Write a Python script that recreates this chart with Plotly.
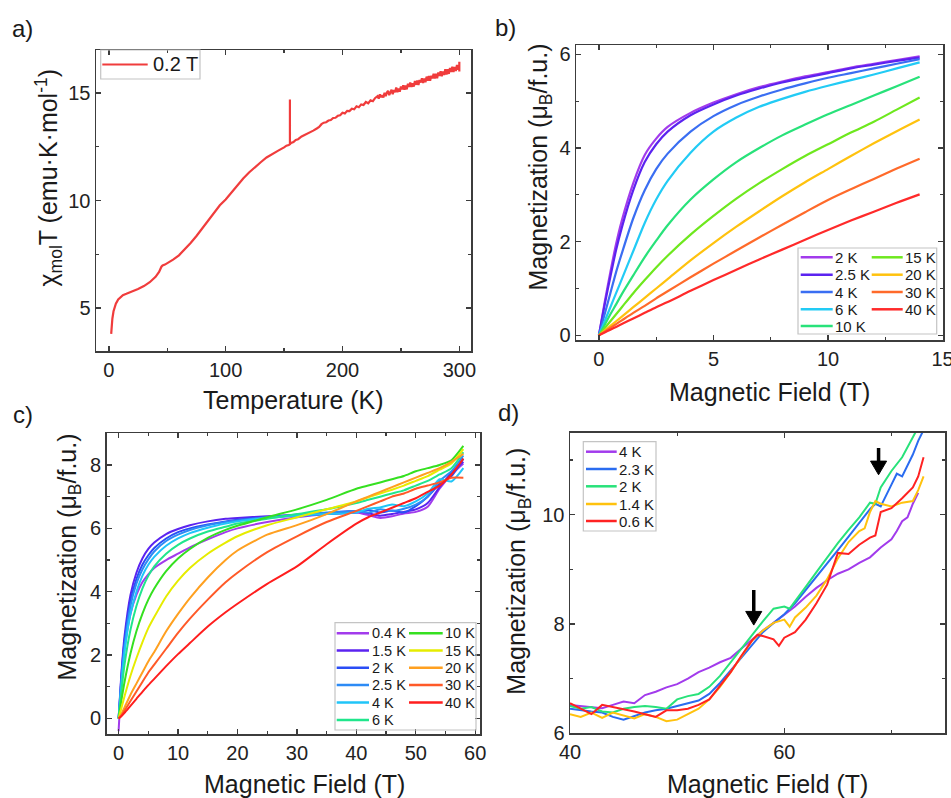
import plotly.graph_objects as go

W, H = 951, 798
FONT = "Liberation Sans, Arial, sans-serif"
AXC = "#3c3c3c"

# ---------------- Panel a: chi*T vs temperature (0.2 T) ----------------
temp_a = [2, 2.5, 3, 4, 5, 6, 8, 10, 12, 15, 20, 25, 30, 35, 40, 43, 45, 46, 48, 50,
          55, 60, 65, 70, 75, 80, 85, 90, 95, 100, 105, 110, 115, 120, 125, 130, 135,
          140, 145, 150, 152, 154, 155, 155, 155, 156, 158, 160, 162, 165, 168, 170,
          172, 175, 178,
          180, 182, 184, 186, 188, 190, 192, 194, 196, 198, 200, 202, 204, 206, 208,
          210, 212, 214, 216, 218, 220, 222, 224, 226, 228,
          230, 231, 232, 233, 234, 235, 236, 237, 238, 239, 240, 241, 242, 243, 244,
          245, 246, 247, 248, 249, 250, 251, 252, 253, 254, 255, 256, 257, 258, 259,
          260, 261, 262, 263, 264, 265, 266, 267, 268, 269, 270, 271, 272, 273, 274,
          275, 276, 277, 278, 279, 280, 281, 282, 283, 284, 285, 286, 287, 288, 289,
          290, 291, 292, 293, 294, 295, 296, 297, 298, 299, 300, 300, 300]
chiT_a = [3.8, 4.2, 4.5, 4.85, 5.05, 5.2, 5.4, 5.52, 5.6, 5.66, 5.76, 5.88, 6.02, 6.2,
          6.45, 6.68, 6.92, 6.98, 7.02, 7.08, 7.25, 7.45, 7.72, 8.02, 8.35, 8.72, 9.08,
          9.45, 9.78, 10.05, 10.38, 10.72, 11.02, 11.3, 11.55, 11.78, 12.0, 12.18,
          12.32, 12.47, 12.55, 12.58, 12.62, 14.7, 12.62, 12.68, 12.72, 12.82, 12.85,
          12.98, 13.05, 13.12, 13.18, 13.25, 13.35,
          13.42, 13.55, 13.62, 13.64, 13.72, 13.74, 13.84, 13.85, 13.94, 13.96, 14.08,
          14.05, 14.17, 14.16, 14.27, 14.24, 14.38, 14.34, 14.47, 14.44, 14.58, 14.52,
          14.66, 14.62, 14.77,
          14.85, 14.74, 14.94, 14.80, 14.90, 14.79, 15.01, 14.85, 15.02, 15.10, 14.90,
          15.00, 15.15, 14.94, 15.14, 15.03, 15.25, 15.04, 15.20, 15.06, 15.30, 15.17,
          15.36, 15.15, 15.35, 15.17, 15.43, 15.28, 15.49, 15.28, 15.45, 15.30, 15.56,
          15.38, 15.58, 15.37, 15.61, 15.49, 15.69, 15.47, 15.67, 15.50, 15.76, 15.57,
          15.79, 15.57, 15.80, 15.68, 15.90, 15.67, 15.89, 15.69, 15.96, 15.79, 16.01,
          15.78, 16.00, 15.84, 16.10, 15.86, 16.10, 15.89, 16.16, 15.98, 16.22, 15.98,
          16.21, 16.02, 16.30, 16.08, 16.32, 16.0, 16.45]

# ---------------- Panel b: M(H) up to 14 T ----------------
field_b = [0, 0.25, 0.5, 0.75, 1, 1.5, 2, 2.5, 3, 4, 5, 6, 7, 8, 9, 10, 11, 12, 13, 14]
labels_b = ["2 K", "2.5 K", "4 K", "6 K", "10 K", "15 K", "20 K", "30 K", "40 K"]
colors_b = ["#A23BEC", "#5B23F0", "#3A6EF2", "#22CBF5", "#28E27A",
            "#6EE81E", "#FFC20E", "#FF6A2A", "#FF2A2A"]
m_b_2K = [0, 0.7, 1.35, 1.95, 2.45, 3.25, 3.85, 4.2, 4.45, 4.75, 4.97, 5.15, 5.3, 5.42, 5.53, 5.62, 5.72, 5.8, 5.88, 5.96]
m_b_2p5K = [0, 0.65, 1.25, 1.82, 2.3, 3.1, 3.7, 4.08, 4.35, 4.7, 4.93, 5.12, 5.27, 5.4, 5.5, 5.6, 5.7, 5.78, 5.86, 5.93]
m_b_4K = [0, 0.45, 0.9, 1.35, 1.75, 2.5, 3.1, 3.55, 3.88, 4.35, 4.68, 4.92, 5.1, 5.25, 5.38, 5.5, 5.6, 5.7, 5.8, 5.9]
m_b_6K = [0, 0.3, 0.6, 0.9, 1.2, 1.8, 2.4, 2.9, 3.3, 3.9, 4.35, 4.65, 4.88, 5.05, 5.2, 5.33, 5.45, 5.57, 5.7, 5.83]
m_b_10K = [0, 0.22, 0.45, 0.66, 0.88, 1.28, 1.67, 2.02, 2.35, 2.9, 3.33, 3.7, 4.0, 4.27, 4.5, 4.72, 4.92, 5.12, 5.32, 5.52]
m_b_15K = [0, 0.15, 0.3, 0.45, 0.6, 0.9, 1.18, 1.45, 1.7, 2.15, 2.55, 2.92, 3.25, 3.55, 3.83, 4.08, 4.33, 4.56, 4.82, 5.08]
m_b_20K = [0, 0.1, 0.2, 0.3, 0.4, 0.6, 0.8, 1.0, 1.2, 1.6, 1.97, 2.32, 2.65, 2.97, 3.27, 3.55, 3.83, 4.1, 4.36, 4.61]
m_b_30K = [0, 0.08, 0.16, 0.24, 0.32, 0.48, 0.63, 0.79, 0.94, 1.24, 1.53, 1.81, 2.09, 2.36, 2.63, 2.89, 3.12, 3.34, 3.56, 3.77]
m_b_40K = [0, 0.06, 0.12, 0.18, 0.24, 0.36, 0.48, 0.6, 0.71, 0.95, 1.18, 1.4, 1.62, 1.83, 2.04, 2.25, 2.45, 2.64, 2.83, 3.01]
series_b = [m_b_2K, m_b_2p5K, m_b_4K, m_b_6K, m_b_10K, m_b_15K, m_b_20K, m_b_30K, m_b_40K]

# ---------------- Panel c: pulsed field M(H) up to 58 T ----------------
field_c = [0, 0.5, 1, 2, 3, 4, 5, 6, 8, 10, 12, 15, 18, 20, 25, 30, 35, 40, 42, 44, 46, 48, 50, 52, 54, 56, 58]
labels_c = ["0.4 K", "1.5 K", "2 K", "2.5 K", "4 K", "6 K", "10 K", "15 K", "20 K", "30 K", "40 K"]
colors_c = ["#A23BEC", "#5B23F0", "#2A4DF5", "#2D8BF5", "#20C5F8", "#20E68C",
            "#35E020", "#E6EC00", "#FFA020", "#FF5A28", "#FF1E1E"]
m_c_0p4K = [-0.4, 1.2, 2.2, 3.3, 3.9, 4.3, 4.55, 4.75, 5.0, 5.2, 5.4, 5.65, 5.88, 6.0, 6.2, 6.35, 6.45, 6.5, 6.42, 6.33, 6.38, 6.47, 6.52, 6.68, 7.25, 7.7, 8.05]
m_c_1p5K = [0, 1.5, 2.6, 3.9, 4.6, 5.05, 5.35, 5.55, 5.82, 5.98, 6.1, 6.22, 6.3, 6.33, 6.38, 6.43, 6.48, 6.55, 6.48, 6.4, 6.45, 6.52, 6.6, 6.8, 7.3, 7.75, 8.1]
m_c_2K = [0, 1.4, 2.45, 3.7, 4.4, 4.85, 5.15, 5.38, 5.68, 5.88, 6.0, 6.12, 6.22, 6.27, 6.35, 6.4, 6.45, 6.5, 6.58, 6.5, 6.56, 6.5, 6.7, 7.0, 7.4, 7.65, 8.2]
m_c_2p5K = [0, 1.3, 2.3, 3.55, 4.25, 4.7, 5.02, 5.27, 5.6, 5.8, 5.95, 6.1, 6.2, 6.25, 6.35, 6.42, 6.5, 6.55, 6.5, 6.6, 6.55, 6.62, 6.75, 7.0, 7.5, 7.8, 8.3]
m_c_4K = [0, 1.15, 2.1, 3.3, 4.0, 4.5, 4.85, 5.1, 5.45, 5.68, 5.85, 6.02, 6.15, 6.22, 6.33, 6.4, 6.45, 6.5, 6.62, 6.66, 6.75, 6.7, 6.85, 7.1, 7.55, 7.48, 7.9]
m_c_6K = [0, 0.9, 1.7, 2.8, 3.55, 4.1, 4.5, 4.8, 5.2, 5.48, 5.68, 5.9, 6.05, 6.15, 6.3, 6.45, 6.6, 6.8, 6.9, 7.0, 7.1, 7.2, 7.35, 7.5, 7.7, 7.9, 8.4]
m_c_10K = [0, 0.6, 1.15, 2.05, 2.75, 3.3, 3.75, 4.1, 4.65, 5.05, 5.35, 5.7, 5.95, 6.08, 6.35, 6.6, 6.9, 7.25, 7.35, 7.45, 7.55, 7.65, 7.8, 7.9, 8.0, 8.15, 8.6]
m_c_15K = [0, 0.35, 0.7, 1.35, 1.9, 2.4, 2.85, 3.2, 3.85, 4.35, 4.75, 5.2, 5.55, 5.75, 6.1, 6.35, 6.6, 6.85, 6.98, 7.1, 7.22, 7.35, 7.5, 7.65, 7.85, 8.05, 8.5]
m_c_20K = [0, 0.15, 0.35, 0.75, 1.1, 1.45, 1.8, 2.1, 2.75, 3.3, 3.8, 4.45, 5.0, 5.3, 5.8, 6.1, 6.45, 6.85, 7.0, 7.15, 7.3, 7.45, 7.6, 7.75, 7.9, 8.1, 8.35]
m_c_30K = [0, 0.1, 0.25, 0.55, 0.85, 1.15, 1.45, 1.7, 2.2, 2.7, 3.15, 3.75, 4.3, 4.6, 5.25, 5.75, 6.2, 6.55, 6.7, 6.85, 7.0, 7.1, 7.25, 7.35, 7.45, 7.6, 7.6]
m_c_40K = [0, 0.08, 0.18, 0.4, 0.62, 0.84, 1.05, 1.25, 1.65, 2.03, 2.38, 2.9, 3.35, 3.62, 4.25, 4.8, 5.5, 6.15, 6.35, 6.5, 6.65, 6.8, 6.95, 7.15, 7.35, 7.7, 8.2]
series_c = [m_c_0p4K, m_c_1p5K, m_c_2K, m_c_2p5K, m_c_4K, m_c_6K, m_c_10K,
            m_c_15K, m_c_20K, m_c_30K, m_c_40K]

# ---------------- Panel d: high-field zoom ----------------
labels_d = ["4 K", "2.3 K", "2 K", "1.4 K", "0.6 K"]
colors_d = ["#A23BEC", "#2A6CF0", "#28E27A", "#FFC20E", "#FF2222"]
h_d_4K = [40, 41, 42, 43, 44, 45, 46, 47, 48, 49, 50, 51, 52, 53, 54, 55, 56, 57, 58, 59, 60,
          61, 62, 63, 64, 65, 66, 67, 68, 69, 70, 70.5, 71, 71.5, 72, 72.5]
m_d_4K = [6.52, 6.5, 6.49, 6.46, 6.52, 6.58, 6.55, 6.7, 6.76, 6.84, 6.9, 7.0, 7.12, 7.2, 7.3,
          7.38, 7.55, 7.72, 7.88, 8.02, 8.17, 8.32, 8.5, 8.66, 8.8, 8.92, 9.0, 9.12, 9.22,
          9.4, 9.55, 9.7, 9.88, 9.95, 10.2, 10.4]
h_d_2p3K = [40, 41, 42, 43, 44, 45, 46, 47, 48, 49, 50, 51, 52, 53, 54, 55, 56, 57, 58, 59, 60,
            61, 62, 63, 64, 65, 66, 67, 68, 68.5, 69, 70, 70.5, 71, 72, 72.5, 73]
m_d_2p3K = [6.45, 6.42, 6.4, 6.38, 6.3, 6.25, 6.32, 6.38, 6.42, 6.45, 6.5, 6.55, 6.6, 6.72,
            6.92, 7.15, 7.38, 7.62, 7.85, 8.02, 8.18, 8.38, 8.62, 8.85, 9.1, 9.35, 9.6, 9.85,
            10.1, 10.2, 10.15, 10.55, 10.75, 10.7, 11.1, 11.35, 11.55]
h_d_2K = [40, 41, 42, 43, 44, 45, 46, 47, 48, 49, 50, 51, 52, 53, 54, 55, 56, 57, 58, 59, 60,
          60.5, 61, 62, 63, 64, 65, 66, 67, 68, 68.5, 69, 70, 71, 72, 72.5]
m_d_2K = [6.5, 6.45, 6.48, 6.4, 6.38, 6.45, 6.48, 6.5, 6.48, 6.45, 6.62, 6.68, 6.72, 6.85,
          7.05, 7.3, 7.55, 7.82, 8.05, 8.28, 8.32, 8.28, 8.42, 8.68, 8.95, 9.22, 9.48, 9.72,
          9.95, 10.22, 10.2, 10.5, 10.8, 11.05, 11.4, 11.6]
h_d_1p4K = [40, 41, 42, 43, 44, 45, 46, 47, 48, 49, 50, 51, 52, 53, 54, 55, 56, 57, 58, 59,
            60, 60.5, 61, 62, 63, 64, 65, 66, 67, 67.5, 68, 68.5, 69, 70, 71, 72, 72.5, 73]
m_d_1p4K = [6.35, 6.3, 6.38, 6.28, 6.38, 6.32, 6.27, 6.35, 6.3, 6.22, 6.25, 6.35, 6.45, 6.62,
            6.85, 7.12, 7.42, 7.7, 7.88, 8.02, 8.08, 7.95, 8.12, 8.3, 8.52, 8.82, 9.2, 9.5,
            9.7, 9.75, 10.05, 10.25, 10.2, 10.15, 10.22, 10.25, 10.45, 10.7]
h_d_0p6K = [40, 41, 42, 43, 44, 45, 46, 47, 48, 49, 50, 51, 52, 53, 54, 55, 56, 57, 57.5, 58,
            59, 59.5, 60, 61, 62, 63, 64, 65, 66, 67, 68, 68.5, 69, 70, 71, 72, 72.5, 73]
m_d_0p6K = [6.55, 6.45, 6.35, 6.52, 6.48, 6.45, 6.4, 6.35, 6.3, 6.42, 6.42, 6.45, 6.52, 6.62,
            6.88, 7.12, 7.42, 7.7, 7.8, 7.78, 7.72, 7.6, 7.75, 7.85, 8.08, 8.38, 8.72, 9.3,
            9.28, 9.45, 9.58, 9.62, 10.05, 10.12, 10.3, 10.5, 10.7, 11.05]
series_d = [(h_d_4K, m_d_4K), (h_d_2p3K, m_d_2p3K), (h_d_2K, m_d_2K),
            (h_d_1p4K, m_d_1p4K), (h_d_0p6K, m_d_0p6K)]
# arrows marking the transitions (field, arrow tip, arrow tail) in data units
arrow_fields_d = [57.15, 68.8]
arrow_tips_d = [7.98, 10.73]
arrow_tails_d = [8.62, 11.22]


def px(x):
    return x / W


def py(y):
    return 1 - y / H


fig = go.Figure()

fig.add_trace(go.Scatter(x=temp_a, y=chiT_a, mode="lines", name="0.2 T",
                         line=dict(color="#F03C3C", width=2.2), xaxis="x", yaxis="y"))
for lab, col, m in zip(labels_b, colors_b, series_b):
    fig.add_trace(go.Scatter(x=field_b, y=m, mode="lines", name=lab,
                             line=dict(color=col, width=2.2, shape="spline", smoothing=0.8),
                             xaxis="x2", yaxis="y2"))
for lab, col, m in zip(labels_c, colors_c, series_c):
    fig.add_trace(go.Scatter(x=field_c, y=m, mode="lines", name=lab,
                             line=dict(color=col, width=2, shape="spline", smoothing=0.6),
                             xaxis="x3", yaxis="y3"))
for lab, col, (h, m) in zip(labels_d, colors_d, series_d):
    fig.add_trace(go.Scatter(x=h, y=m, mode="lines", name=lab,
                             line=dict(color=col, width=2), xaxis="x4", yaxis="y4"))


def axis(domain, rng, dtick, minor, anchor):
    return dict(domain=domain, range=rng, dtick=dtick, tick0=0, anchor=anchor,
                automargin=False, ticklabeloverflow="allow",
                showline=True, linecolor=AXC, linewidth=1.5, mirror="allticks",
                ticks="inside", ticklen=5, tickwidth=1.3, tickcolor=AXC,
                minor=dict(ticks="inside", ticklen=3, tickwidth=1.2, tickcolor=AXC,
                           dtick=minor, tick0=0),
                showgrid=False, zeroline=False,
                tickfont=dict(family=FONT, size=20, color="#222"))


layout = dict(
    template="none",
    width=W, height=H, margin=dict(l=0, r=0, t=0, b=0, autoexpand=False),
    paper_bgcolor="white", plot_bgcolor="white", showlegend=False,
    font=dict(family=FONT, color="#222"),
    xaxis=axis([px(96), px(471)], [-11, 310], 100, 50, "y"),
    yaxis=axis([py(351), py(50)], [3, 17], 5, 2.5, "x"),
    xaxis2=axis([px(576), px(943)], [-1, 15.02], 5, 2.5, "y2"),
    yaxis2=axis([py(340), py(45)], [-0.1, 6.2], 2, 1, "x2"),
    xaxis3=axis([px(106.7), px(480)], [-2, 60.8], 10, 5, "y3"),
    yaxis3=axis([py(734.3), py(433.3)], [-0.5, 9], 2, 1, "x3"),
    xaxis4=axis([px(570), px(945)], [40, 75], 20, 10, "y4"),
    yaxis4=axis([py(733.3), py(432.7)], [6, 11.5], 2, 1, "x4"),
)
fig.update_layout(**layout)

annotations = []
shapes = []


def text(x, y, s, size, angle=0, xanchor="center"):
    annotations.append(dict(x=px(x), y=py(y), xref="paper", yref="paper", text=s,
                            showarrow=False, textangle=angle, xanchor=xanchor,
                            yanchor="middle", font=dict(family=FONT, size=size, color="#1a1a1a")))


# panel labels
text(22.5, 29, "a)", 24)
text(505, 27.5, "b)", 24)
text(22.5, 414, "c)", 24)
text(508.5, 412, "d)", 24)

# axis titles
text(293.5, 400, "Temperature (K)", 25)
text(48.5, 178, "χ<sub>mol</sub>T (emu·K·mol<sup>-1</sup>)", 25, -90)
text(769, 392, "Magnetic Field (T)", 25)
text(539, 167.5, "Magnetization (μ<sub>B</sub>/f.u.)", 25, -90)
text(304, 784, "Magnetic Field (T)", 25)
text(68, 557.5, "Magnetization (μ<sub>B</sub>/f.u.)", 25, -90)
text(767.5, 784, "Magnetic Field (T)", 25)
text(518, 571.7, "Magnetization (μ<sub>B</sub>/f.u.)", 25, -90)


def legend_box(x0, y0, x1, y1):
    shapes.append(dict(type="rect", xref="paper", yref="paper", x0=px(x0), x1=px(x1),
                       y0=py(y1), y1=py(y0), line=dict(color="#c4c4c4", width=1.2),
                       fillcolor="rgba(255,255,255,0)"))


def legend_item(lx0, lx1, tx, y, color, label, size=15, width=2.5):
    shapes.append(dict(type="line", xref="paper", yref="paper", x0=px(lx0), x1=px(lx1),
                       y0=py(y), y1=py(y), line=dict(color=color, width=width)))
    text(tx, y, label, size, xanchor="left")


# legend a
legend_box(100.7, 50, 200, 79)
legend_item(102.3, 147.7, 150.5, 64.5, "#F03C3C", "0.2 T", size=20, width=2)

# legend b
legend_box(798, 248, 936.7, 334)
rows_b = [257.3, 274.7, 292, 309.3, 326]
for i, (lab, col) in enumerate(zip(labels_b, colors_b)):
    if i < 5:
        legend_item(800.7, 832.7, 833, rows_b[i], col, lab)
    else:
        legend_item(871.7, 902.7, 903, rows_b[i - 5], col, lab)

# legend c
legend_box(335, 622.7, 476, 730)
rows_c = [633.3, 650.5, 667.8, 685, 702.5, 720]
for i, (lab, col) in enumerate(zip(labels_c, colors_c)):
    if i < 6:
        legend_item(336.7, 369, 369.5, rows_c[i], col, lab, size=14.5)
    else:
        legend_item(409, 442.7, 443, rows_c[i - 6], col, lab, size=14.5)

# legend d
legend_box(583.3, 441.7, 656, 531)
rows_d = [451.7, 469, 486.3, 504, 521]
for i, (lab, col) in enumerate(zip(labels_d, colors_d)):
    legend_item(586, 616.7, 617, rows_d[i], col, lab)

# arrows in d drawn as a shaft plus a filled triangular head (data coordinates)
HEAD_HALF_W = 0.75   # Tesla
HEAD_LEN = 0.25      # mu_B
for hx, tip, tail in zip(arrow_fields_d, arrow_tips_d, arrow_tails_d):
    base = tip + HEAD_LEN
    shapes.append(dict(type="line", xref="x4", yref="y4", x0=hx, x1=hx, y0=tail, y1=base - 0.02,
                       line=dict(color="black", width=3.5)))
    shapes.append(dict(type="path", xref="x4", yref="y4",
                       path=f"M {hx - HEAD_HALF_W},{base} L {hx + HEAD_HALF_W},{base} L {hx},{tip} Z",
                       fillcolor="black", line=dict(color="black", width=1)))

fig.update_layout(annotations=annotations, shapes=shapes)
fig.write_html("out.html", config={"displayModeBar": False, "staticPlot": True},
               post_script="document.body.style.margin='0';document.body.style.overflow='hidden';")
